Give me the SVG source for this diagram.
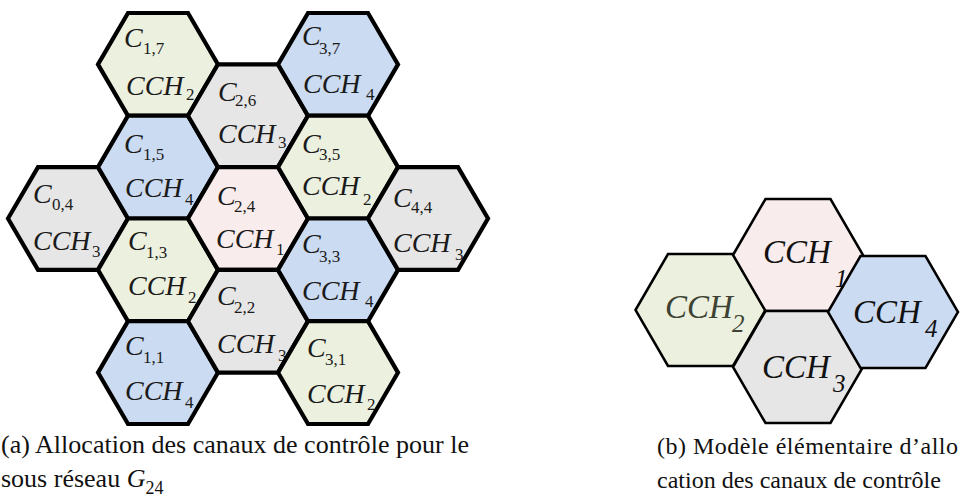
<svg xmlns="http://www.w3.org/2000/svg" width="960" height="503" viewBox="0 0 960 503">
<style>
.h{stroke:#000;stroke-width:4.2;stroke-linejoin:miter}
.h2{stroke:#000;stroke-width:2.5;stroke-linejoin:miter}
.g{fill:#ebf0df}.b{fill:#cbdbf1}.y{fill:#e6e6e6}.p{fill:#f8ecec}
.t{font-family:"Liberation Serif","Times New Roman",serif;font-style:italic;font-size:28px;fill:#1a1a1a}
.s{font-style:normal;font-size:17px}
.t2{font-family:"Liberation Serif","Times New Roman",serif;font-style:italic;font-size:33px;fill:#111}
.s2{font-size:25px}
.cap{font-family:"Liberation Serif","Times New Roman",serif;font-size:26px;fill:#111}
.cap2{font-family:"Liberation Serif","Times New Roman",serif;font-size:24px;fill:#111}
</style>
<g id="hex-left">
<g id="C0_4"><polygon class="h y" points="8,218.5 38,167.1 98,167.1 128,218.5 98,269.9 38,269.9"/>
<text class="t" x="33" y="203">C<tspan class="s" x="52" y="210">0,4</tspan></text>
<text class="t" x="33" y="250">CCH<tspan class="s" x="92" y="257">3</tspan></text></g>
<g id="C1_7"><polygon class="h g" points="98,64.4 128,13 188,13 218,64.4 188,115.8 128,115.8"/>
<text class="t" x="124" y="47">C<tspan class="s" x="143" y="54">1,7</tspan></text>
<text class="t" x="126" y="95">CCH<tspan class="s" x="186" y="100">2</tspan></text></g>
<g id="C1_5"><polygon class="h b" points="98,167.1 128,115.7 188,115.7 218,167.1 188,218.5 128,218.5"/>
<text class="t" x="124" y="153">C<tspan class="s" x="143" y="160">1,5</tspan></text>
<text class="t" x="125" y="197">CCH<tspan class="s" x="185" y="205">4</tspan></text></g>
<g id="C1_3"><polygon class="h g" points="98,269.9 128,218.5 188,218.5 218,269.9 188,321.3 128,321.3"/>
<text class="t" x="128" y="250">C<tspan class="s" x="146" y="258">1,3</tspan></text>
<text class="t" x="128" y="295">CCH<tspan class="s" x="188" y="303">2</tspan></text></g>
<g id="C1_1"><polygon class="h b" points="98,372.6 128,321.2 188,321.2 218,372.6 188,424 128,424"/>
<text class="t" x="125" y="355">C<tspan class="s" x="143" y="363">1,1</tspan></text>
<text class="t" x="125" y="400">CCH<tspan class="s" x="185" y="408">4</tspan></text></g>
<g id="C2_6"><polygon class="h y" points="188,115.7 218,64.3 278,64.3 308,115.7 278,167.1 218,167.1"/>
<text class="t" x="218" y="101">C<tspan class="s" x="235" y="106">2,6</tspan></text>
<text class="t" x="218" y="143">CCH<tspan class="s" x="278" y="148">3</tspan></text></g>
<g id="C2_4"><polygon class="h p" points="188,218.5 218,167.1 278,167.1 308,218.5 278,269.9 218,269.9"/>
<text class="t" x="217" y="205">C<tspan class="s" x="234" y="212">2,4</tspan></text>
<text class="t" x="216" y="248">CCH<tspan class="s" x="276" y="255">1</tspan></text></g>
<g id="C2_2"><polygon class="h y" points="188,321.2 218,269.8 278,269.8 308,321.2 278,372.6 218,372.6"/>
<text class="t" x="217" y="305">C<tspan class="s" x="234" y="313">2,2</tspan></text>
<text class="t" x="217" y="353">CCH<tspan class="s" x="278" y="361">3</tspan></text></g>
<g id="C3_7"><polygon class="h b" points="278,64.4 308,13 368,13 398,64.4 368,115.8 308,115.8"/>
<text class="t" x="302" y="45">C<tspan class="s" x="319" y="54">3,7</tspan></text>
<text class="t" x="303" y="93">CCH<tspan class="s" x="366" y="100">4</tspan></text></g>
<g id="C3_5"><polygon class="h g" points="278,167.1 308,115.7 368,115.7 398,167.1 368,218.5 308,218.5"/>
<text class="t" x="302" y="153">C<tspan class="s" x="319" y="160">3,5</tspan></text>
<text class="t" x="302" y="195">CCH<tspan class="s" x="363" y="205">2</tspan></text></g>
<g id="C3_3"><polygon class="h b" points="278,269.9 308,218.5 368,218.5 398,269.9 368,321.3 308,321.3"/>
<text class="t" x="302" y="253">C<tspan class="s" x="319" y="262">3,3</tspan></text>
<text class="t" x="302" y="300">CCH<tspan class="s" x="365" y="307">4</tspan></text></g>
<g id="C3_1"><polygon class="h g" points="278,372.6 308,321.2 368,321.2 398,372.6 368,424 308,424"/>
<text class="t" x="307" y="357">C<tspan class="s" x="325" y="365">3,1</tspan></text>
<text class="t" x="307" y="403">CCH<tspan class="s" x="367" y="410">2</tspan></text></g>
<g id="C4_4"><polygon class="h y" points="368,218.5 398,167.1 458,167.1 488,218.5 458,269.9 398,269.9"/>
<text class="t" x="393" y="207">C<tspan class="s" x="411" y="213">4,4</tspan></text>
<text class="t" x="393" y="252">CCH<tspan class="s" x="455" y="260">3</tspan></text></g>
</g>
<g id="hex-right">
<g id="CCH2"><polygon class="h2 g" points="635.5,310 668,254 733,254 765.5,310 733,366 668,366"/>
<text class="t2" x="665" y="318" style="fill:#3d4232">CCH<tspan class="s2" x="732" y="332">2</tspan></text></g>
<g id="CCH1"><polygon class="h2 p" points="733,255 765.5,199 830.5,199 863,255 830.5,311 765.5,311"/>
<text class="t2" x="763" y="263">CCH<tspan class="s2" x="835" y="287">1</tspan></text></g>
<g id="CCH3"><polygon class="h2 y" points="733,367 765.5,311 830.5,311 863,367 830.5,423 765.5,423"/>
<text class="t2" x="762" y="378">CCH<tspan class="s2" x="833" y="392">3</tspan></text></g>
<g id="CCH4"><polygon class="h2 b" points="828,312 860.5,256 925.5,256 958,312 925.5,368 860.5,368"/>
<text class="t2" x="853" y="323">CCH<tspan class="s2" x="925" y="337">4</tspan></text></g>
</g>
<g id="captions">
<text class="cap" x="1" y="453" textLength="468" lengthAdjust="spacing">(a)  Allocation des canaux de contrôle pour le</text>
<text class="cap" x="1" y="487">sous réseau <tspan font-style="italic">G</tspan><tspan font-size="18" y="494">24</tspan></text>
<text class="cap2" x="657" y="454" textLength="301" lengthAdjust="spacing">(b)  Modèle élémentaire d’allo</text>
<text class="cap2" x="657" y="488">cation des canaux de contrôle</text>
</g>
</svg>
